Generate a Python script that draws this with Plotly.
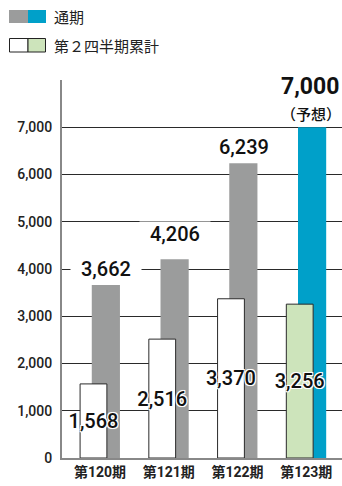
import plotly.graph_objects as go

categories = ["第120期", "第121期", "第122期", "第123期"]
full_year = [3662, 4206, 6239, 7000]
first_half = [1568, 2516, 3370, 3256]
y_ticks = [0, 1000, 2000, 3000, 4000, 5000, 6000, 7000]
legend_labels = ["通期", "第２四半期累計"]
forecast_note = "（予想）"

W, H = 342, 486
L, R, T, B = 62, 0, 80, 28
PW, PH = W - L - R, H - T - B

GRAY = "#9b9c9c"
BLUE = "#00a0c9"
GREEN = "#cde4bb"
NUM_FONT = "Roboto, Noto Sans CJK JP, sans-serif"
CJK_FONT = "Noto Sans CJK JP, sans-serif"


def px(x):
    return (x - L) / PW


def py(y):
    return (H - B - y) / PH


fig = go.Figure()

fig.add_trace(go.Bar(
    x=categories, y=full_year,
    offset=-0.12, width=0.41,
    marker=dict(color=[GRAY, GRAY, GRAY, BLUE], line=dict(width=0)),
    hoverinfo="skip", showlegend=False,
))
fig.add_trace(go.Bar(
    x=categories, y=first_half,
    offset=-0.29, width=0.39,
    marker=dict(color=["#ffffff", "#ffffff", "#ffffff", GREEN],
                line=dict(color="#2a2a2a", width=1)),
    text=[f"{v:,}" for v in first_half],
    textposition="inside", insidetextanchor="middle",
    textangle=0, constraintext="none",
    textfont=dict(family=NUM_FONT, size=20, color="#111111", weight=500,
                  shadow="-1px -1px 0 #fff, 1px -1px 0 #fff, -1px 1px 0 #fff, 1px 1px 0 #fff, 0 0 2px #fff"),
    hoverinfo="skip", showlegend=False,
))

annotations = []
for i, (c, v) in enumerate(zip(categories, full_year)):
    if i < len(categories) - 1:
        annotations.append(dict(
            x=c, y=v, xref="x", yref="y", xanchor="center", yanchor="bottom",
            xshift=6, yshift=3 if i != 1 else 12,
            text=f"&nbsp;&nbsp;{v:,}&nbsp;&nbsp;", showarrow=False, bgcolor="#ffffff", borderpad=0,
            font=dict(family=NUM_FONT, size=20, color="#111111", weight=500),
        ))
    else:
        annotations.append(dict(
            x=c, y=v, xref="x", yref="y", xanchor="center", yanchor="bottom",
            xshift=4, yshift=25,
            text=f"{v:,}", showarrow=False,
            font=dict(family=NUM_FONT, size=23, color="#111111", weight="bold"),
        ))
        annotations.append(dict(
            x=c, y=v, xref="x", yref="y", xanchor="center", yanchor="bottom",
            xshift=5, yshift=1,
            text=forecast_note, showarrow=False,
            font=dict(family=CJK_FONT, size=15, color="#111111", weight=500),
        ))

# legend
shapes = []
shapes.append(dict(type="rect", xref="paper", yref="paper", x0=px(9), x1=px(28), y0=py(23), y1=py(10),
                   fillcolor=GRAY, line=dict(width=0)))
shapes.append(dict(type="rect", xref="paper", yref="paper", x0=px(28), x1=px(46), y0=py(23), y1=py(10),
                   fillcolor=BLUE, line=dict(width=0)))
shapes.append(dict(type="rect", xref="paper", yref="paper", x0=px(9.5), x1=px(28), y0=py(52), y1=py(38.5),
                   fillcolor="#ffffff", line=dict(color="#222222", width=1)))
shapes.append(dict(type="rect", xref="paper", yref="paper", x0=px(28), x1=px(45.5), y0=py(52), y1=py(38.5),
                   fillcolor=GREEN, line=dict(color="#222222", width=1)))
annotations.append(dict(x=px(52), y=py(16.5), xref="paper", yref="paper", xanchor="left", yanchor="middle",
                        text=legend_labels[0], showarrow=False,
                        font=dict(family=CJK_FONT, size=15, color="#222222")))
annotations.append(dict(x=px(52), y=py(45.5), xref="paper", yref="paper", xanchor="left", yanchor="middle",
                        text=legend_labels[1], showarrow=False,
                        font=dict(family=CJK_FONT, size=15, color="#222222")))

fig.update_layout(
    width=W, height=H,
    margin=dict(l=L, r=R, t=T, b=B, pad=0),
    paper_bgcolor="#ffffff", plot_bgcolor="#ffffff",
    barmode="overlay",
    showlegend=False,
    shapes=shapes,
    annotations=annotations,
    xaxis=dict(
        type="category", range=[-0.553, 3.52],
        showgrid=False, showline=True, linecolor="#888888", linewidth=2,
        ticks="", tickfont=dict(family=NUM_FONT, size=14, color="#222222", weight="bold"),
        fixedrange=True,
    ),
    yaxis=dict(
        range=[0, 8000], tickvals=y_ticks,
        ticktext=[f"{v:,}" for v in y_ticks],
        showgrid=True, gridcolor="#2a2a2a", gridwidth=1,
        showline=True, linecolor="#888888", linewidth=2,
        zeroline=False, ticks="", ticklabelstandoff=5,
        tickfont=dict(family=NUM_FONT, size=14, color="#222222", weight=500),
        fixedrange=True,
    ),
)

fig.write_html("out.html", config={"displayModeBar": False},
               post_script="document.body.style.margin='0';document.body.style.overflow='hidden';")
